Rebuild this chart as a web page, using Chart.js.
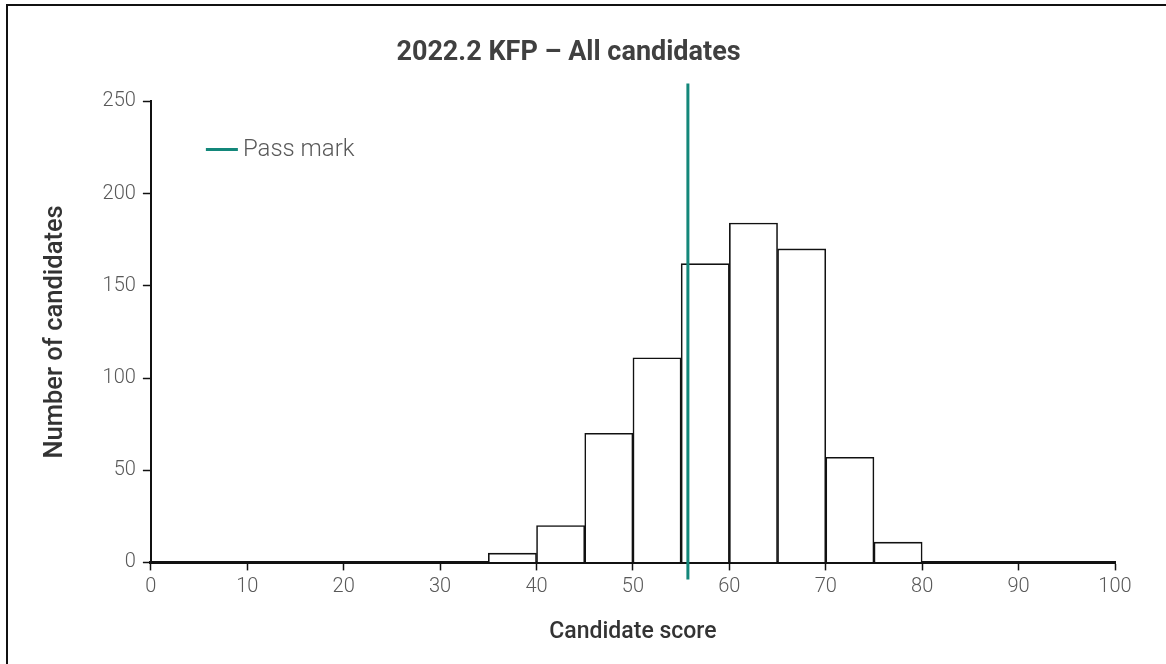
<!DOCTYPE html>
<html>
<head>
<meta charset="utf-8">
<script src="https://cdn.jsdelivr.net/npm/chart.js@4"></script>
<style>
  html, body { margin: 0; padding: 0; background: #fff; }
  #wrap { position: relative; width: 1166px; height: 664px; overflow: hidden; }
  #frame { position: absolute; left: 6px; top: 4px; width: 1300px; height: 800px; border-left: 2px solid #111; border-top: 2px solid #111; }
  canvas { position: absolute; left: 0; top: 0; }
</style>
</head>
<body>
<div id="wrap">
  <div id="frame"></div>
  <canvas id="c" width="1166" height="664"></canvas>
</div>
<script>
const chartTitle = '2022.2 KFP – All candidates';
const xTitle = 'Candidate score';
const yTitle = 'Number of candidates';
const binStarts = [35, 40, 45, 50, 55, 60, 65, 70, 75];
const binWidth = 5;
const counts = [5, 20, 70, 111, 162, 184, 170, 57, 11];
const passMark = 55.7;
const passLabel = 'Pass mark';
const xMin = 0, xMax = 100, xStep = 10;
const yMin = 0, yMax = 250, yStep = 50;

const teal = '#13877a';
const tickColor = '#595959';

const barData = binStarts.map((s, i) => ({ x: s + binWidth / 2, y: counts[i] }));

const passPlugin = {
  id: 'passLine',
  afterDatasetsDraw(chart) {
    const { ctx, chartArea, scales } = chart;
    const x = scales.x.getPixelForValue(passMark);
    ctx.save();
    ctx.strokeStyle = teal;
    ctx.lineWidth = 3;
    ctx.beginPath();
    ctx.moveTo(x, chartArea.top - 18);
    ctx.lineTo(x, chartArea.bottom + 17);
    ctx.stroke();
    // legend
    const ly = chartArea.top + 48;
    const lx = chartArea.left + 55;
    ctx.beginPath();
    ctx.moveTo(lx, ly);
    ctx.lineTo(lx + 32, ly);
    ctx.stroke();
    ctx.fillStyle = tickColor;
    ctx.font = '300 24px Roboto';
    ctx.textBaseline = 'middle';
    ctx.textAlign = 'left';
    ctx.fillText(passLabel, lx + 37, ly + 1);
    ctx.restore();
  }
};

new Chart(document.getElementById('c'), {
  type: 'bar',
  data: {
    datasets: [{
      data: barData,
      backgroundColor: '#ffffff',
      borderColor: '#111111',
      borderWidth: 1.6,
      barPercentage: 1,
      categoryPercentage: 1
    }]
  },
  options: {
    responsive: false,
    animation: false,
    layout: { padding: { left: 22, right: 51, top: 16, bottom: 14 } },
    plugins: {
      legend: { display: false },
      tooltip: { enabled: false },
      title: {
        display: true,
        text: chartTitle,
        color: '#404040',
        font: { family: 'Roboto', size: 27, weight: 'bold' },
        padding: { top: 21, bottom: 32 }
      }
    },
    scales: {
      x: {
        type: 'linear',
        offset: false,
        min: xMin, max: xMax,
        ticks: { stepSize: xStep, color: tickColor, font: { family: 'Roboto', size: 20, weight: 300 }, padding: 5, maxRotation: 0 },
        grid: { offset: false, drawOnChartArea: false, drawTicks: true, tickLength: 8, color: '#111', tickWidth: 1.5 },
        border: { display: true, color: '#111', width: 3 },
        title: { display: true, text: xTitle, color: '#333', font: { family: 'Roboto', size: 23, weight: 500 }, padding: { top: 14, bottom: 4 } }
      },
      y: {
        min: yMin, max: yMax,
        ticks: { stepSize: yStep, color: tickColor, font: { family: 'Roboto', size: 20, weight: 300 }, padding: 7 },
        grid: { drawOnChartArea: false, drawTicks: true, tickLength: 8, color: '#111', tickWidth: 1.5 },
        border: { display: true, color: '#111', width: 2 },
        title: { display: true, text: yTitle, color: '#333', font: { family: 'Roboto', size: 25.5, weight: 500 }, padding: { top: 18, bottom: 25 } }
      }
    }
  },
  plugins: [passPlugin]
});
</script>
</body>
</html>
